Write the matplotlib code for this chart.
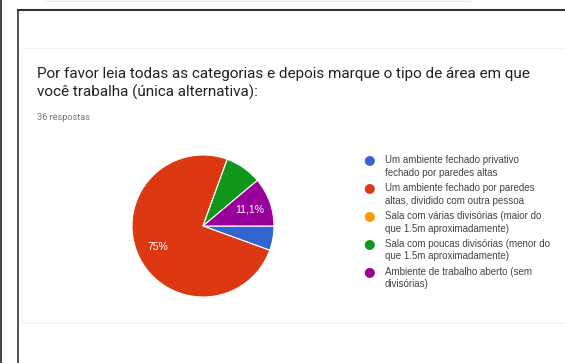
import matplotlib
matplotlib.use("Agg")
from matplotlib import pyplot as plt
from matplotlib.lines import Line2D
from matplotlib.patches import Rectangle

# Google Forms summary: 36 answers
title = ("Por favor leia todas as categorias e depois marque o tipo de área em que\n"
         "você trabalha (única alternativa):")
subtitle = "36 respostas"
categories = [
    "Um ambiente fechado privativo\nfechado por paredes altas",
    "Um ambiente fechado por paredes\naltas, dividido com outra pessoa",
    "Sala com várias divisórias (maior do\nque 1.5m aproximadamente)",
    "Sala com poucas divisórias (menor do\nque 1.5m aproximadamente)",
    "Ambiente de trabalho aberto (sem\ndivisórias)",
]
counts = [2, 27, 0, 3, 4]
colors = ["#3366cc", "#dc3912", "#ff9900", "#109618", "#990099"]

W, H = 565, 363
plt.rcParams['font.family'] = ['Roboto', 'DejaVu Sans']
fig = plt.figure(figsize=(W / 100, H / 100), dpi=100)


def fx(px):
    return px / W


def fy(py):
    return 1 - py / H


# screenshot frame lines
fig.add_artist(Line2D([fx(1), fx(1)], [0, 1], color="#222222", lw=1.2))
fig.add_artist(Line2D([fx(17.5), fx(17.5)], [0, fy(9.5)], color="#333333", lw=1.2))
fig.add_artist(Line2D([fx(17.5), 1], [fy(9.5), fy(9.5)], color="#333333", lw=1.5))
fig.add_artist(Line2D([fx(45), fx(470)], [fy(1), fy(1)], color="#e8e8e8", lw=0.8))
fig.add_artist(Rectangle((fx(22), fy(323)), 1.0, fy(48) - fy(323),
                         facecolor="none", edgecolor="#f2f2f2", lw=0.8))

fig.text(fx(37), fy(67), title, fontsize=11.0, color="#212121",
         va="top", ha="left", linespacing=1.32)
fig.text(fx(37), fy(117), subtitle, fontsize=6.6, color="#757575",
         va="center", ha="left")

# pie
cx, cy, r = 203, 226, 71
ax = fig.add_axes([fx(cx - r), fy(cy + r), 2 * r / W, 2 * r / H])


def pct(v):
    if v < 10:
        return ""
    s = f"{v:.1f}".replace(".", ",")
    return s.replace(",0", "") + "%"


wedges, texts, autotexts = ax.pie(
    counts, colors=colors, startangle=0, counterclock=False,
    autopct=pct, pctdistance=0.7,
    wedgeprops=dict(edgecolor="white", linewidth=0.8),
    textprops=dict(color="white", fontsize=7.5, family="Liberation Sans"))
ax.set_xlim(-1, 1)
ax.set_ylim(-1, 1)
ax.set_aspect("equal")
ax.axis("off")

# legend
y0 = 160
for i, (lab, c) in enumerate(zip(categories, colors)):
    yy = y0 + i * 27.8
    fig.text(fx(369), fy(yy), "\u25cf", color=c, fontsize=9.5,
             ha="center", va="center", family="DejaVu Sans")
    fig.text(fx(385), fy(yy - 4.5), lab, fontsize=7.0, color="#444444",
             ha="left", va="top", linespacing=1.3, family="Liberation Sans")

fig.savefig("out.png", dpi=100)
